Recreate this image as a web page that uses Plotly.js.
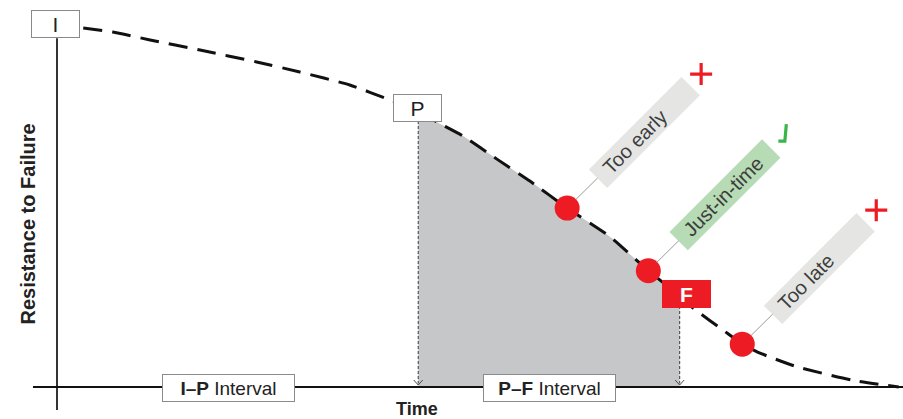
<!DOCTYPE html>
<html>
<head>
<meta charset="utf-8">
<script src="https://cdn.plot.ly/plotly-3.0.1.min.js"></script>
<style>
html,body{margin:0;padding:0;background:#ffffff;}
#chart{width:903px;height:419px;}
</style>
</head>
<body>
<div id="chart"></div>
<script>
// ---- Data: P-F degradation curve (time and resistance in % units) ----
const curveTime = [3.1, 6.6, 11.0, 16.9, 23.6, 28.7, 34.6, 39.4, 42.7, 44.9, 48.0, 52.0, 55.9, 60.3, 65.4, 69.9, 73.6, 75.2, 79.2, 81.0, 83.1, 87.5, 94.0, 99.5];
const curveResistance = [99.7, 98.6, 96.4, 93.6, 90.3, 87.5, 83.9, 79.7, 76.7, 73.6, 69.7, 63.3, 57.2, 49.7, 41.7, 32.3, 25.3, 21.9, 15.0, 11.9, 9.4, 5.6, 1.9, 0];

// Milestones: I (installation), P (potential failure), F (functional failure)
const milestoneLabels = ['I', 'P', 'F'];
const milestoneTime = [-0.2, 42.6, 74.4];
const milestoneResistance = [100.8, 77.4, 25.7];

// P-F interval bounds
const pTime = 42.7;
const fTime = 73.6;

// Inspections
const inspectionLabels = ['Too early', 'Just-in-time', 'Too late'];
const inspectionTime = [60.3, 69.9, 81.0];
const inspectionResistance = [49.7, 32.3, 11.9];
const inspectionVerdict = ['bad', 'good', 'bad'];

// Interval labels on the time axis
const intervalLabels = ['<b>I–P</b> Interval', '<b>P–F</b> Interval'];
const intervalTime = [20.3, 58.2];
const intervalResistance = [-0.3, -0.3];

const axisTitles = {x: 'Time', y: 'Resistance to Failure'};

// ---- Styling ----
const RED = '#ed1c24';
const GREEN = '#39b54a';
const FONT = 'Liberation Sans, Arial, Helvetica, sans-serif';

// shaded P-F region: curve points between P and F
const shadeT = [], shadeR = [];
curveTime.forEach((t, i) => {
  if (t >= pTime - 1e-9 && t <= fTime + 1e-9) { shadeT.push(t); shadeR.push(curveResistance[i]); }
});

function curveAt(t) {
  for (let i = 0; i < curveTime.length - 1; i++) {
    if (t >= curveTime[i] && t <= curveTime[i + 1]) {
      const f = (t - curveTime[i]) / (curveTime[i + 1] - curveTime[i]);
      return curveResistance[i] + f * (curveResistance[i + 1] - curveResistance[i]);
    }
  }
  return 0;
}

const traces = [
  {
    x: shadeT, y: shadeR, type: 'scatter', mode: 'lines',
    line: {width: 0, color: '#c6c7c9', shape: 'spline', smoothing: 0.5}, fill: 'tozeroy', fillcolor: '#c6c7c9',
    hoverinfo: 'skip', showlegend: false
  },
  {
    x: [pTime, pTime], y: [curveAt(pTime), 1.0], type: 'scatter', mode: 'lines',
    line: {width: 1.1, color: '#4a4a4a', dash: '3px,2px'}, hoverinfo: 'skip', showlegend: false
  },
  {
    x: [fTime, fTime], y: [curveAt(fTime), 1.0], type: 'scatter', mode: 'lines',
    line: {width: 1.1, color: '#4a4a4a', dash: '3px,2px'}, hoverinfo: 'skip', showlegend: false
  },
  {
    x: curveTime, y: curveResistance, type: 'scatter', mode: 'lines',
    line: {width: 3, color: '#111111', dash: '19px,10px', shape: 'spline', smoothing: 0.5},
    hoverinfo: 'skip', showlegend: false
  },
  {
    x: inspectionTime, y: inspectionResistance, type: 'scatter', mode: 'markers',
    marker: {size: 25, color: RED, line: {width: 0}}, hoverinfo: 'skip', showlegend: false
  }
];

const shapes = [
  // time axis
  {type: 'line', xref: 'x', yref: 'y', x0: -2.84, x1: 100, y0: 0, y1: 0, line: {color: '#111111', width: 2}},
  // resistance axis
  {type: 'line', xref: 'x', yref: 'y', x0: 0, x1: 0, y0: -6.4, y1: 96.9, line: {color: '#111111', width: 1.7}}
];

// arrow chevrons at bottom of the dashed interval lines
[pTime, fTime].forEach(t => {
  shapes.push({
    type: 'path', xref: 'x', yref: 'y', xsizemode: 'pixel', ysizemode: 'pixel',
    xanchor: t, yanchor: 0, path: 'M -4.5,7 L 0,2 L 4.5,7',
    line: {color: '#4a4a4a', width: 1}
  });
});

// verdict marks next to labels
inspectionVerdict.forEach((v, i) => {
  const path = v === 'good'
    ? 'M 130,129.5 L 136.5,129.5 L 138,146.5'
    : 'M 123,134 L 145,134 M 134,123 L 134,145';
  shapes.push({
    type: 'path', xref: 'x', yref: 'y', xsizemode: 'pixel', ysizemode: 'pixel',
    xanchor: inspectionTime[i], yanchor: inspectionResistance[i], path: path,
    line: {color: v === 'good' ? GREEN : RED, width: 3.2}
  });
});

const annotations = [];

// milestone boxes
milestoneLabels.forEach((lab, i) => {
  const isF = lab === 'F';
  annotations.push({
    x: milestoneTime[i], y: milestoneResistance[i], xref: 'x', yref: 'y',
    text: isF ? '<b>' + lab + '</b>' : lab, showarrow: false,
    width: 47, height: 26, borderpad: 0,
    bgcolor: isF ? RED : '#ffffff',
    bordercolor: isF ? RED : '#8a8a8a', borderwidth: 1,
    font: {family: FONT, size: 21, color: isF ? '#ffffff' : '#222222'}
  });
});

// inspection label boxes with leader lines
inspectionLabels.forEach((lab, i) => {
  annotations.push({
    x: inspectionTime[i], y: inspectionResistance[i], xref: 'x', yref: 'y',
    text: '&nbsp;&nbsp;' + lab, showarrow: true, arrowhead: 0, arrowwidth: 1,
    arrowcolor: '#9a9a9a', standoff: 12, ax: 77, ay: -76,
    textangle: -45, width: 130, height: 25, borderpad: 0, align: 'left',
    bgcolor: inspectionVerdict[i] === 'good' ? '#b6dbb5' : '#e5e6e4',
    font: {family: FONT, size: 20, color: '#3d3d3d'}
  });
});

// interval boxes
intervalLabels.forEach((lab, i) => {
  annotations.push({
    x: intervalTime[i], y: intervalResistance[i], xref: 'x', yref: 'y',
    text: lab, showarrow: false, width: 131, height: 26, borderpad: 0,
    bgcolor: '#ffffff', bordercolor: '#8a8a8a', borderwidth: 1,
    font: {family: FONT, size: 19, color: '#222222'}
  });
});

// axis titles
annotations.push({
  x: 42.6, y: -6.2, xref: 'x', yref: 'y', text: '<b>' + axisTitles.x + '</b>', showarrow: false,
  font: {family: FONT, size: 18, color: '#222222'}
});
annotations.push({
  x: -3.43, y: 45.4, xref: 'x', yref: 'y', text: '<b>' + axisTitles.y + '</b>', showarrow: false,
  textangle: -90, font: {family: FONT, size: 20, color: '#222222'}
});

const layout = {
  width: 903, height: 419, autosize: false,
  margin: {l: 0, r: 0, t: 0, b: 0, pad: 0},
  paper_bgcolor: '#ffffff', plot_bgcolor: '#ffffff',
  showlegend: false,
  xaxis: {range: [-6.738, 100], visible: false, fixedrange: true},
  yaxis: {range: [-8.889, 107.5], visible: false, fixedrange: true},
  shapes: shapes,
  annotations: annotations
};

Plotly.newPlot('chart', traces, layout, {displayModeBar: false, staticPlot: true});
</script>
</body>
</html>
